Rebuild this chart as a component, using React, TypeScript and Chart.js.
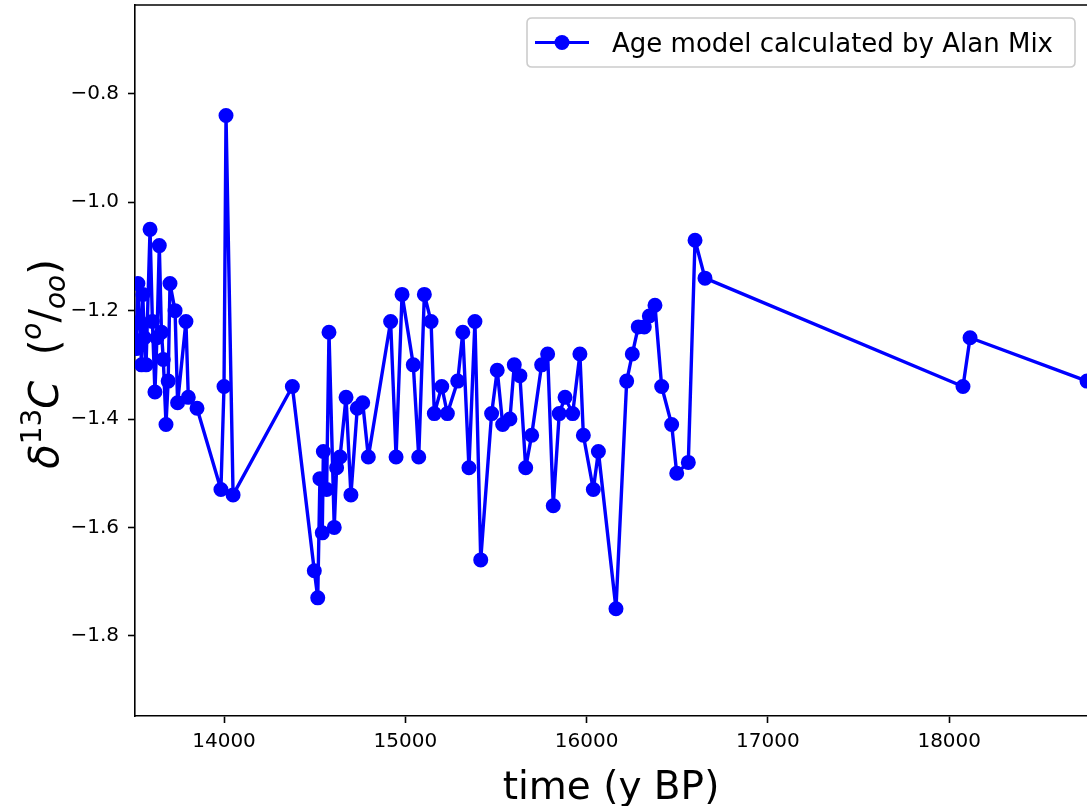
import React, { useEffect, useRef } from "react";
import { Chart, registerables } from "chart.js";

Chart.register(...registerables);

const times: number[] = [
  13515, 13525, 13535, 13545, 13552, 13560, 13570, 13592, 13605, 13619,
  13630, 13643, 13655, 13665, 13680, 13692, 13702, 13730, 13744, 13790,
  13803, 13851, 13983, 14000, 14011, 14050, 14377, 14498, 14517, 14529,
  14542, 14548, 14566, 14579, 14608, 14621, 14640, 14673, 14700, 14735,
  14765, 14796, 14919, 14949, 14982, 15044, 15074, 15105, 15142, 15160,
  15201, 15232, 15289, 15317, 15351, 15384, 15416, 15476, 15507, 15537,
  15577, 15601, 15632, 15664, 15697, 15752, 15785, 15816, 15849, 15881,
  15923, 15963, 15982, 16037, 16065, 16162, 16221, 16252, 16285, 16318,
  16346, 16377, 16414, 16469, 16497, 16561, 16598, 16653, 18076, 18115,
  18760,
];

const d13C: number[] = [
  -1.27, -1.15, -1.22, -1.30, -1.17, -1.25, -1.30, -1.05, -1.22, -1.35,
  -1.25, -1.08, -1.24, -1.29, -1.41, -1.33, -1.15, -1.20, -1.37, -1.22,
  -1.36, -1.38, -1.53, -1.34, -0.84, -1.54, -1.34, -1.68, -1.73, -1.51,
  -1.61, -1.46, -1.53, -1.24, -1.60, -1.49, -1.47, -1.36, -1.54, -1.38,
  -1.37, -1.47, -1.22, -1.47, -1.17, -1.30, -1.47, -1.17, -1.22, -1.39,
  -1.34, -1.39, -1.33, -1.24, -1.49, -1.22, -1.66, -1.39, -1.31, -1.41,
  -1.40, -1.30, -1.32, -1.49, -1.43, -1.30, -1.28, -1.56, -1.39, -1.36,
  -1.39, -1.28, -1.43, -1.53, -1.46, -1.75, -1.33, -1.28, -1.23, -1.23,
  -1.21, -1.19, -1.34, -1.41, -1.50, -1.48, -1.07, -1.14, -1.34, -1.25,
  -1.33,
];

const xTicks: number[] = [14000, 15000, 16000, 17000, 18000];
const yTicks: number[] = [-1.8, -1.6, -1.4, -1.2, -1.0, -0.8];
const seriesLabel = "Age model calculated by Alan Mix";
const xTitle = "time (y BP)";

const FONT = "'DejaVu Sans', sans-serif";

const decorPlugin = {
  id: "decor",
  afterDraw(chart: any) {
    const { ctx, chartArea } = chart;
    ctx.save();
    // top spine
    ctx.strokeStyle = "#000";
    ctx.lineWidth = 1.6;
    ctx.beginPath();
    ctx.moveTo(chartArea.left - 0.8, chartArea.top);
    ctx.lineTo(chartArea.right + 2, chartArea.top);
    ctx.stroke();

    // x title
    ctx.fillStyle = "#000";
    ctx.font = `39px ${FONT}`;
    ctx.textAlign = "center";
    ctx.textBaseline = "alphabetic";
    ctx.fillText(xTitle, 611, 799);

    // y title (mathtext-like)
    ctx.translate(58, 364);
    ctx.rotate(-Math.PI / 2);
    const big = 40;
    const small = 28;
    const segs = [
      { t: "δ", f: `italic ${big}px ${FONT}`, dy: 0 },
      { t: "13", f: `${small}px ${FONT}`, dy: -17 },
      { t: "C", f: `italic ${big}px ${FONT}`, dy: 0 },
      { t: "  ", f: `${big}px ${FONT}`, dy: 0 },
      { t: "(", f: `${big}px ${FONT}`, dy: 0 },
      { t: "o", f: `italic ${small}px ${FONT}`, dy: -17 },
      { t: "/", f: `${big}px ${FONT}`, dy: 0 },
      { t: "oo", f: `italic ${small}px ${FONT}`, dy: 7 },
      { t: ")", f: `${big}px ${FONT}`, dy: 0 },
    ];
    let total = 0;
    const widths: number[] = [];
    for (const s of segs) {
      ctx.font = s.f;
      const w = ctx.measureText(s.t).width;
      widths.push(w);
      total += w;
    }
    let x = -total / 2;
    ctx.textAlign = "left";
    segs.forEach((s, i) => {
      ctx.font = s.f;
      ctx.fillText(s.t, x, s.dy);
      x += widths[i];
    });
    ctx.restore();

    // legend
    ctx.save();
    const bx = 527, by = 18, bw = 548, bh = 49, r = 5;
    ctx.beginPath();
    ctx.moveTo(bx + r, by);
    ctx.lineTo(bx + bw - r, by);
    ctx.quadraticCurveTo(bx + bw, by, bx + bw, by + r);
    ctx.lineTo(bx + bw, by + bh - r);
    ctx.quadraticCurveTo(bx + bw, by + bh, bx + bw - r, by + bh);
    ctx.lineTo(bx + r, by + bh);
    ctx.quadraticCurveTo(bx, by + bh, bx, by + bh - r);
    ctx.lineTo(bx, by + r);
    ctx.quadraticCurveTo(bx, by, bx + r, by);
    ctx.closePath();
    ctx.fillStyle = "rgba(255,255,255,0.8)";
    ctx.fill();
    ctx.strokeStyle = "#cccccc";
    ctx.lineWidth = 1.6;
    ctx.stroke();

    const ly = by + bh / 2;
    ctx.strokeStyle = "#0000ff";
    ctx.lineWidth = 3.2;
    ctx.beginPath();
    ctx.moveTo(535, ly);
    ctx.lineTo(589, ly);
    ctx.stroke();
    ctx.fillStyle = "#0000ff";
    ctx.beginPath();
    ctx.arc(562, ly, 7.5, 0, Math.PI * 2);
    ctx.fill();

    ctx.fillStyle = "#000";
    ctx.font = `26px ${FONT}`;
    ctx.textAlign = "left";
    ctx.textBaseline = "alphabetic";
    ctx.fillText(seriesLabel, 612, ly + 9.5);
    ctx.restore();
  },
};

export default function App() {
  const ref = useRef<HTMLCanvasElement>(null);

  useEffect(() => {
    document.body.style.margin = "0";
    const canvas = ref.current;
    if (!canvas) return;
    const points = times.map((t, i) => ({ x: t, y: d13C[i] }));
    const chart = new Chart(canvas, {
      type: "line",
      data: {
        datasets: [
          {
            label: seriesLabel,
            data: points,
            borderColor: "#0000ff",
            backgroundColor: "#0000ff",
            borderWidth: 3.4,
            borderJoinStyle: "round",
            borderCapStyle: "round",
            pointRadius: 6.5,
            pointBorderWidth: 2,
            pointBackgroundColor: "#0000ff",
            pointBorderColor: "#0000ff",
            tension: 0,
            fill: false,
          },
        ],
      },
      options: {
        animation: false,
        responsive: false,
        devicePixelRatio: 1,
        layout: { autoPadding: false, padding: { top: 5, right: 0, left: 0, bottom: 0 } },
        plugins: {
          legend: { display: false },
          tooltip: { enabled: false },
        },
        scales: {
          x: {
            type: "linear",
            min: 13509,
            max: 18760,
            afterBuildTicks: (scale: any) => {
              scale.ticks = xTicks.map((v) => ({ value: v }));
            },
            afterFit: (scale: any) => {
              scale.height = 90;
              scale.paddingLeft = 0;
              scale.paddingRight = 0;
            },
            ticks: {
              font: { family: FONT, size: 20 },
              color: "#000",
              padding: 7,
              maxRotation: 0,
              autoSkip: false,
              callback: (v: any) => String(v),
            },
            grid: {
              drawOnChartArea: false,
              drawTicks: true,
              tickLength: 7,
              tickWidth: 1.6,
              tickColor: "#000",
            },
            border: { display: true, color: "#000", width: 1.6 },
          },
          y: {
            type: "linear",
            min: -1.948,
            max: -0.636,
            afterBuildTicks: (scale: any) => {
              scale.ticks = yTicks.map((v) => ({ value: v }));
            },
            afterFit: (scale: any) => {
              scale.width = 135;
              scale.paddingTop = 0;
              scale.paddingBottom = 0;
            },
            ticks: {
              font: { family: FONT, size: 20 },
              color: "#000",
              padding: 9,
              autoSkip: false,
              callback: (v: any) => Number(v).toFixed(1).replace("-", "\u2212"),
            },
            grid: {
              drawOnChartArea: false,
              drawTicks: true,
              tickLength: 7,
              tickWidth: 1.6,
              tickColor: "#000",
            },
            border: { display: true, color: "#000", width: 1.6 },
          },
        },
      },
      plugins: [decorPlugin],
    });
    return () => chart.destroy();
  }, []);

  return (
    <div style={{ position: "fixed", left: 0, top: 0, width: 1087, height: 806, background: "#fff" }}>
      <canvas ref={ref} width={1087} height={806} style={{ width: 1087, height: 806 }} />
    </div>
  );
}
